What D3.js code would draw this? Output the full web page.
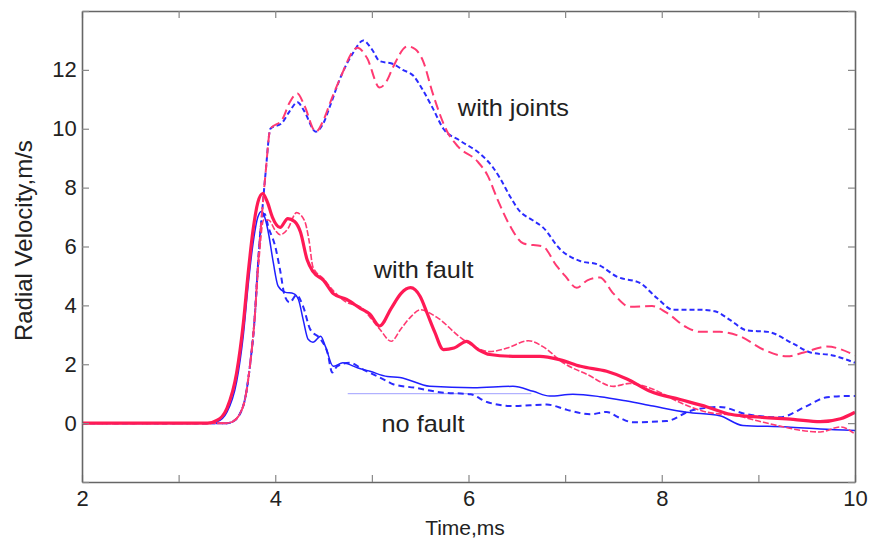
<!DOCTYPE html>
<html>
<head>
<meta charset="utf-8">
<script src="https://cdn.jsdelivr.net/npm/d3@7"></script>
<style>
  body { margin: 0; background: #fff; }
  text { font-family: "Liberation Sans", Arial, sans-serif; fill: #222; }
</style>
</head>
<body>
<svg id="chart" width="869" height="542"></svg>
<script>
// axis ticks
const xTicks = [2, 3, 4, 5, 6, 7, 8, 9, 10];
const xTickLabels = [2, 4, 6, 8, 10];
const yTicks = [-2, 0, 2, 4, 6, 8, 10, 12, 14];
const yTickLabels = [0, 2, 4, 6, 8, 10, 12];

// [time ms, velocity m/s]
const jointsBlue = [[2,0],[3.5,0],[3.56,0.05],[3.67,0.6],[3.74,2.0],[3.79,3.7],[3.82,5.3],[3.86,7.0],[3.9,8.5],[3.95,10.0],[4.07,10.2],[4.15,10.6],[4.23,10.9],[4.3,10.6],[4.42,9.9],[4.5,10.2],[4.57,10.8],[4.67,11.7],[4.81,12.6],[4.91,13.0],[5.0,12.7],[5.08,12.3],[5.22,12.2],[5.32,12.0],[5.43,11.8],[5.53,11.3],[5.63,10.7],[5.74,10.0],[5.91,9.6],[6.12,9.15],[6.25,8.7],[6.33,8.3],[6.43,7.7],[6.53,7.2],[6.66,6.9],[6.77,6.65],[6.95,5.9],[7.16,5.5],[7.33,5.4],[7.54,4.97],[7.78,4.75],[7.95,4.25],[8.12,3.85],[8.4,3.85],[8.55,3.8],[8.71,3.5],[8.88,3.15],[9.1,3.1],[9.36,2.7],[9.54,2.4],[9.77,2.3],[10,2.05]];
const jointsRed = [[2,0],[3.5,0],[3.56,0.05],[3.67,0.6],[3.74,2.0],[3.79,3.7],[3.82,5.3],[3.86,7.0],[3.9,8.5],[3.95,10.0],[4.07,10.3],[4.15,10.9],[4.23,11.2],[4.3,10.8],[4.42,9.9],[4.5,10.3],[4.57,10.9],[4.67,11.7],[4.85,12.75],[4.95,12.4],[5.08,11.4],[5.15,11.6],[5.22,12.1],[5.37,12.8],[5.45,12.7],[5.53,12.3],[5.63,11.2],[5.78,9.9],[5.89,9.4],[6.09,8.9],[6.2,8.4],[6.3,7.6],[6.43,6.7],[6.57,6.1],[6.77,6.0],[6.91,5.35],[7.0,5.0],[7.12,4.6],[7.23,4.85],[7.36,4.95],[7.5,4.4],[7.67,3.95],[7.9,3.98],[8.05,3.75],[8.26,3.25],[8.4,3.1],[8.6,3.1],[8.81,2.95],[9.05,2.5],[9.3,2.27],[9.47,2.4],[9.71,2.6],[10,2.3]];
const faultSolid = [[2,0],[3.3,0],[3.4,0.1],[3.5,0.5],[3.6,1.7],[3.67,3.4],[3.72,5.1],[3.77,6.55],[3.82,7.5],[3.87,7.8],[3.92,7.5],[3.97,7.0],[4.05,6.65],[4.13,6.95],[4.2,6.85],[4.26,6.5],[4.33,5.55],[4.39,5.15],[4.5,4.85],[4.6,4.4],[4.74,4.2],[4.88,3.9],[4.98,3.7],[5.08,3.3],[5.2,3.9],[5.3,4.4],[5.4,4.6],[5.5,4.3],[5.57,3.75],[5.65,3.1],[5.74,2.5],[5.85,2.55],[5.98,2.78],[6.1,2.5],[6.22,2.33],[6.46,2.27],[6.74,2.27],[6.95,2.15],[7.16,1.93],[7.43,1.76],[7.64,1.5],[7.88,1.08],[8.19,0.8],[8.47,0.55],[8.71,0.3],[9.02,0.2],[9.36,0.13],[9.64,0.05],[9.85,0.15],[10,0.37]];
const faultDashed = [[2,0],[3.5,0],[3.56,0.05],[3.67,0.6],[3.74,2.0],[3.79,3.7],[3.83,5.5],[3.88,6.9],[3.93,6.9],[4.0,6.55],[4.05,6.4],[4.13,6.6],[4.22,7.15],[4.3,6.9],[4.35,6.2],[4.39,5.3],[4.5,4.9],[4.6,4.5],[4.74,4.1],[4.88,3.95],[4.98,3.6],[5.08,3.2],[5.2,2.78],[5.3,3.2],[5.4,3.6],[5.5,3.85],[5.67,3.6],[5.94,2.85],[6.22,2.43],[6.4,2.55],[6.62,2.8],[6.77,2.6],[6.98,2.05],[7.23,1.65],[7.5,1.25],[7.67,1.35],[7.91,1.15],[8.19,0.7],[8.47,0.37],[8.78,0.25],[9.05,0.03],[9.22,-0.1],[9.45,-0.25],[9.64,-0.3],[9.85,-0.13],[10,-0.37]];
const noFaultSolid = [[2,0],[3.3,0],[3.4,0.05],[3.5,0.37],[3.6,1.4],[3.67,3.0],[3.72,4.7],[3.77,6.1],[3.82,7.0],[3.86,7.2],[3.9,6.9],[3.93,6.45],[3.98,5.45],[4.03,4.65],[4.1,4.45],[4.19,4.4],[4.24,4.2],[4.29,3.5],[4.34,2.85],[4.39,2.75],[4.47,2.95],[4.52,2.6],[4.6,1.93],[4.7,2.05],[4.85,1.88],[4.98,1.76],[5.16,1.58],[5.29,1.55],[5.6,1.25],[6.05,1.2],[6.46,1.25],[6.67,1.08],[6.84,0.92],[7.08,0.98],[7.36,0.9],[7.64,0.75],[7.91,0.58],[8.26,0.37],[8.6,0.25],[8.84,-0.08],[9.3,-0.13],[9.64,-0.2],[10,-0.25]];
const noFaultDashed = [[2,0],[3.5,0],[3.56,0.05],[3.67,0.6],[3.74,2.0],[3.79,3.7],[3.82,5.3],[3.86,6.9],[3.89,7.1],[3.93,6.65],[4.0,6.0],[4.05,5.2],[4.1,4.3],[4.15,4.1],[4.22,4.35],[4.29,3.95],[4.36,3.2],[4.47,2.85],[4.54,2.4],[4.59,1.72],[4.64,1.93],[4.77,2.05],[4.91,1.82],[5.05,1.6],[5.16,1.42],[5.22,1.32],[5.45,1.2],[5.7,1.05],[6.02,0.98],[6.19,0.72],[6.46,0.58],[6.81,0.63],[7.02,0.45],[7.26,0.3],[7.43,0.38],[7.55,0.2],[7.7,0.03],[8.05,0.07],[8.3,0.42],[8.6,0.55],[8.88,0.3],[9.22,0.2],[9.5,0.58],[9.71,0.88],[9.92,0.92],[10,0.92]];
const faintLine = [[4.75,1.0],[6.65,1.0]];

const annotations = ["with joints", "with fault", "no fault"];
const annotationAt = [[5.89, 10.45], [5.02, 4.93], [5.1, -0.3]];

const width = 869, height = 542;
const margin = { top: 11, right: 14, bottom: 60, left: 82 };

const svg = d3.select("#chart");

const x = d3.scaleLinear().domain([2, 10]).range([margin.left, width - margin.right]);
const y = d3.scaleLinear().domain([-2, 14]).range([height - margin.bottom, margin.top]);

const line = d3.line()
    .x(d => x(d[0]))
    .y(d => y(d[1]))
    .curve(d3.curveMonotoneX);

// draw order + styles
const series = [
    { data: faintLine, color: "#9f9fff", width: 1, dash: null },
    { data: noFaultDashed, color: "#2b2bff", width: 2, dash: "6,4" },
    { data: noFaultSolid, color: "#1f1fff", width: 1.5, dash: null },
    { data: jointsBlue, color: "#2b2bff", width: 2, dash: "5,3" },
    { data: jointsRed, color: "#ff3a72", width: 2, dash: "10,5" },
    { data: faultDashed, color: "#ff3a72", width: 1.6, dash: "6,2" },
    { data: faultSolid, color: "#ff1a55", width: 3.2, dash: null }
];

const plot = svg.append("g");
series.forEach(s => {
    plot.append("path")
        .datum(s.data)
        .attr("fill", "none")
        .attr("stroke", s.color)
        .attr("stroke-width", s.width)
        .attr("stroke-dasharray", s.dash)
        .attr("stroke-linejoin", "round")
        .attr("d", line);
});

// axes: box with inward ticks on all sides
const tickLen = 7;
const axisColor = "#666";

const axBottom = svg.append("g").attr("transform", `translate(0,${height - margin.bottom})`)
    .call(d3.axisBottom(x).tickValues(xTicks).tickSizeInner(-tickLen).tickSizeOuter(0)
        .tickFormat(d => xTickLabels.includes(d) ? d : ""));
const axTop = svg.append("g").attr("transform", `translate(0,${margin.top})`)
    .call(d3.axisTop(x).tickValues(xTicks).tickSizeInner(-tickLen).tickSizeOuter(0).tickFormat(""));
const axLeft = svg.append("g").attr("transform", `translate(${margin.left},0)`)
    .call(d3.axisLeft(y).tickValues(yTicks).tickSizeInner(-tickLen).tickSizeOuter(0)
        .tickFormat(d => yTickLabels.includes(d) ? d : ""));
const axRight = svg.append("g").attr("transform", `translate(${width - margin.right},0)`)
    .call(d3.axisRight(y).tickValues(yTicks).tickSizeInner(-tickLen).tickSizeOuter(0).tickFormat(""));

[axBottom, axTop, axLeft, axRight].forEach(g => {
    g.select(".domain").attr("stroke", axisColor).attr("stroke-width", 1.6);
    g.selectAll(".tick line").attr("stroke", "#888").attr("stroke-width", 1.2);
    g.selectAll(".tick text").attr("font-size", 22).attr("fill", "#222")
        .attr("font-family", "'Liberation Sans', Arial, sans-serif");
});
axBottom.selectAll(".tick text").attr("dy", "0.95em");
axLeft.selectAll(".tick text").attr("dx", "-0.1em");

// axis titles
svg.append("text")
    .attr("x", 465).attr("y", 535)
    .attr("text-anchor", "middle")
    .attr("font-size", 21)
    .text("Time,ms");

svg.append("text")
    .attr("transform", `translate(32,${y(6.2)}) rotate(-90)`)
    .attr("text-anchor", "middle")
    .attr("font-size", 24)
    .text("Radial Velocity,m/s");

// curve annotations (font is a bit wider than Arial)
svg.selectAll(".note")
    .data(annotations)
    .enter().append("text")
    .attr("class", "note")
    .attr("transform", (d, i) => `translate(${x(annotationAt[i][0])},${y(annotationAt[i][1])}) scale(1.1,1)`)
    .attr("font-size", 23)
    .text(d => d);
</script>
</body>
</html>
